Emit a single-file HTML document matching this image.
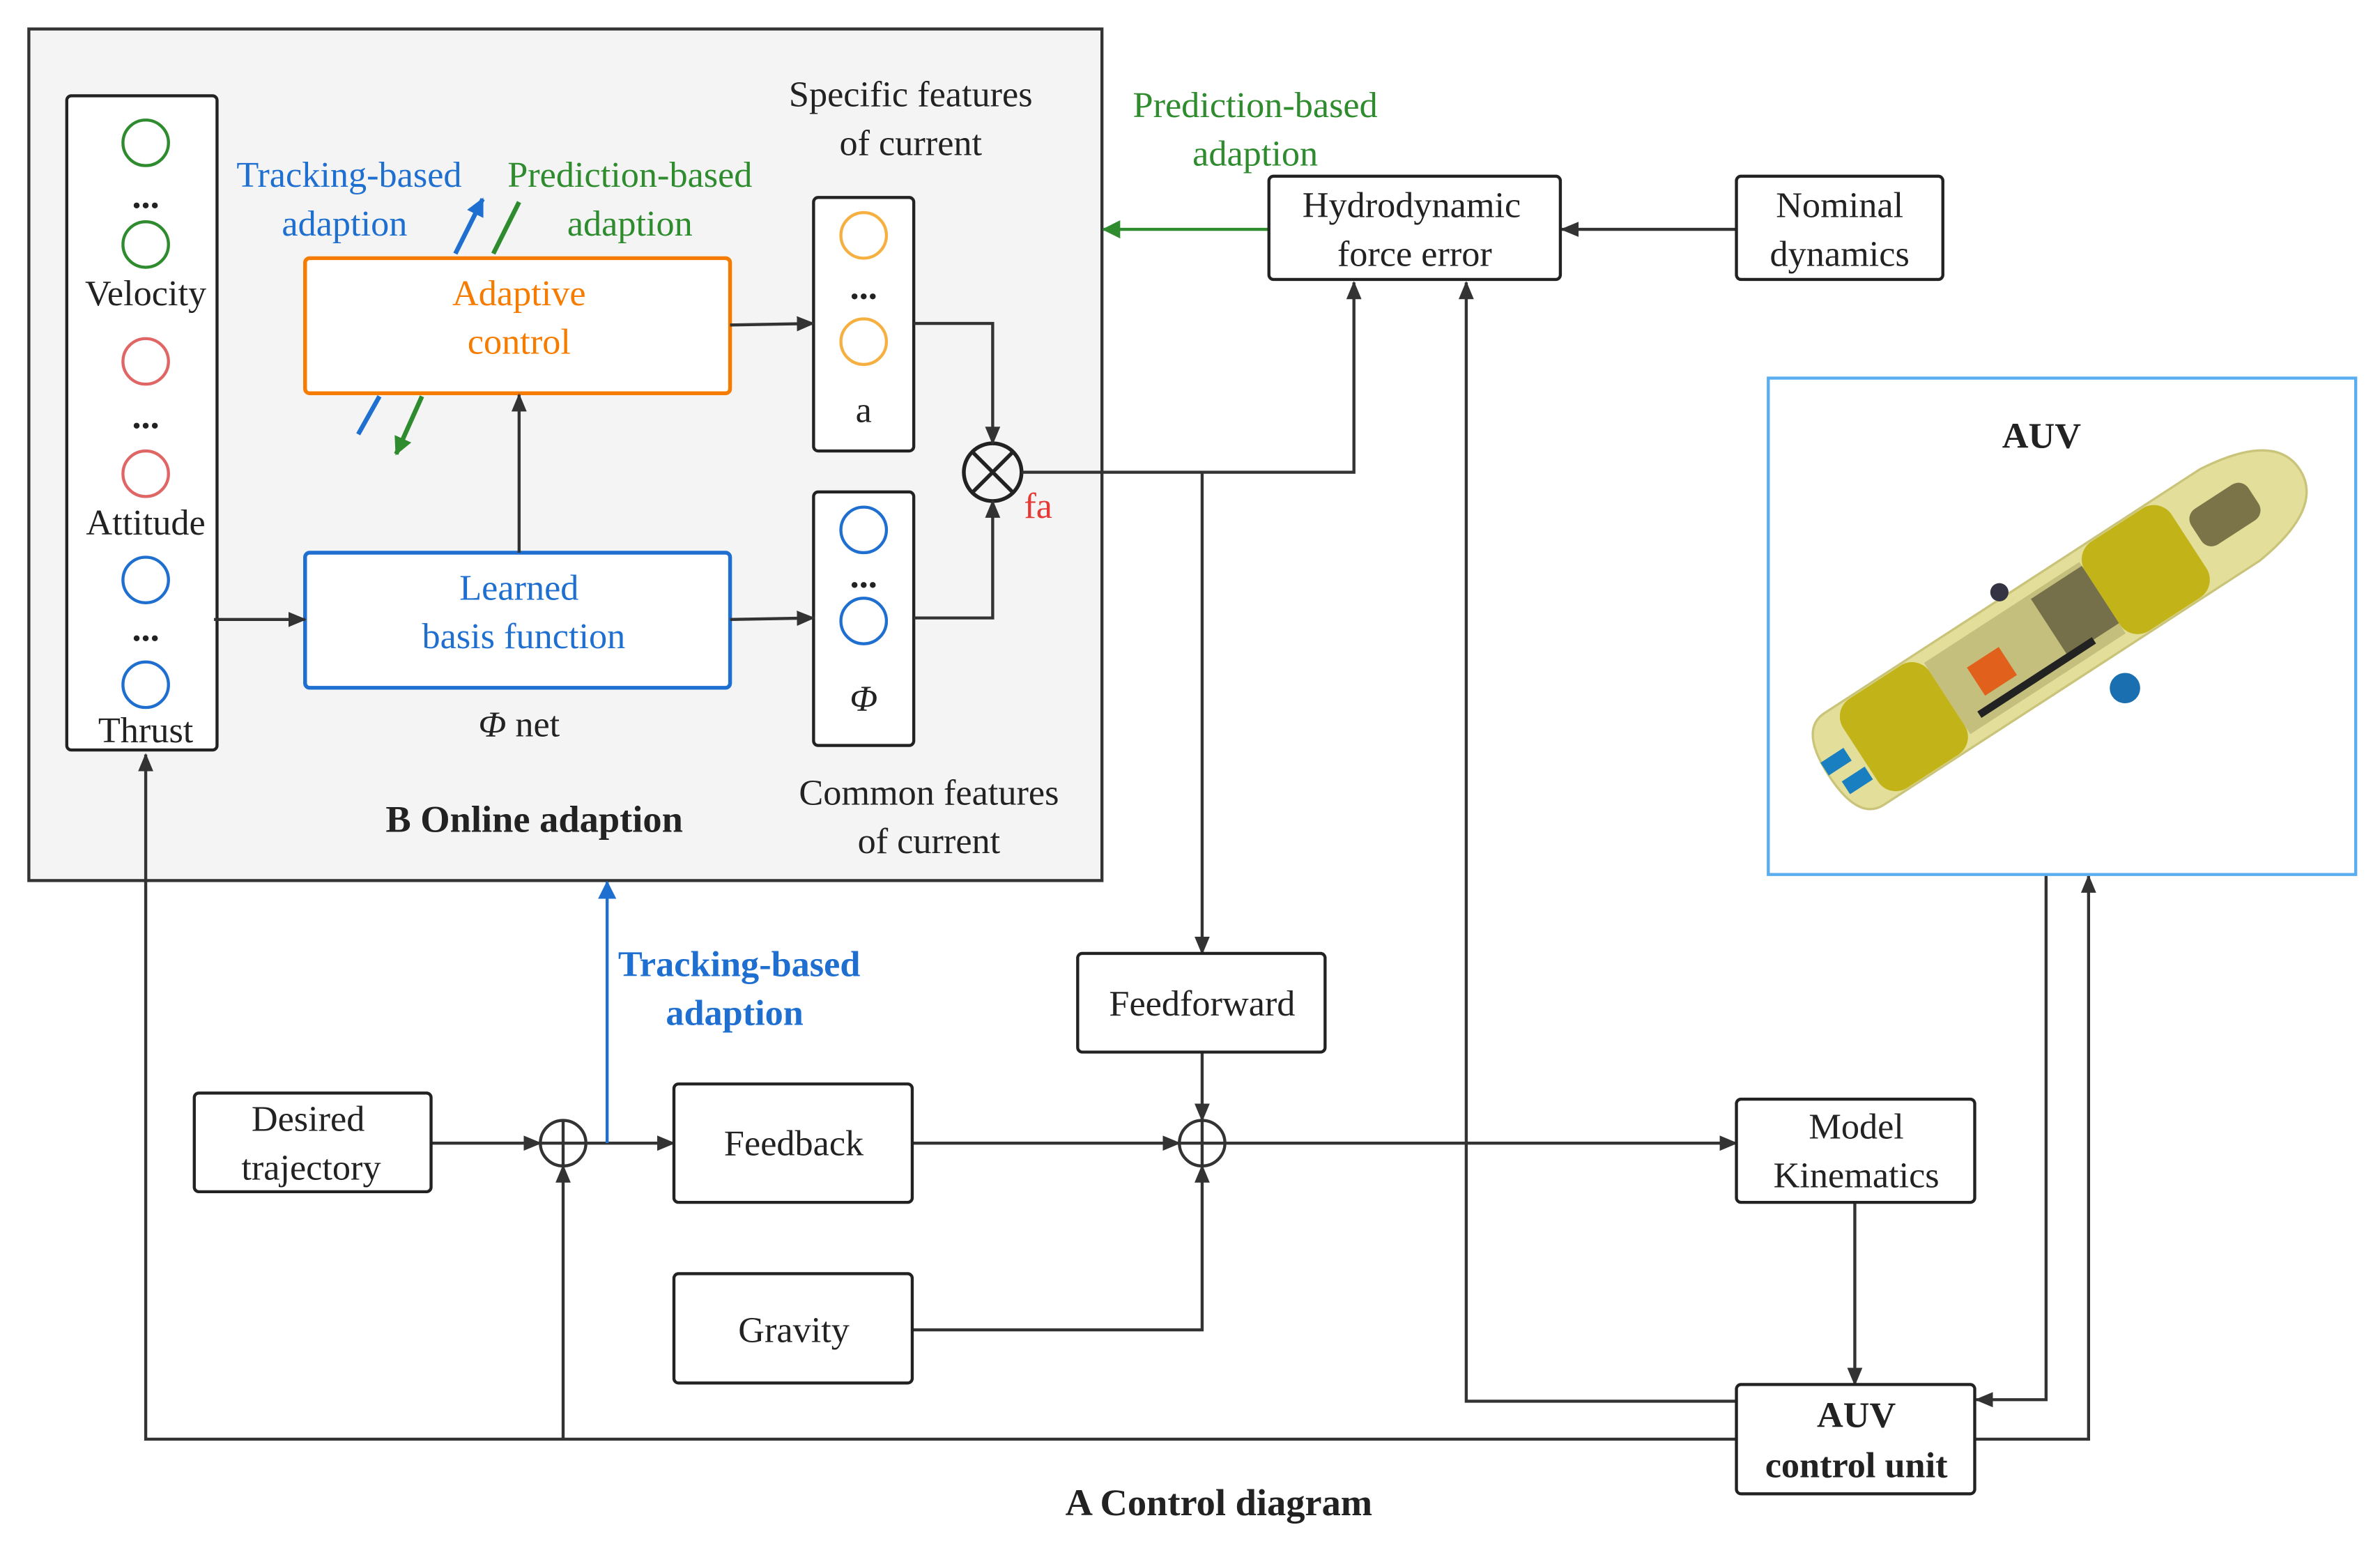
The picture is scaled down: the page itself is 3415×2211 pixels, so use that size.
<!DOCTYPE html>
<html><head><meta charset="utf-8"><style>
html,body{margin:0;padding:0;background:#fff;}
svg{display:block;font-family:"Liberation Serif","Times New Roman",serif;}
svg text{font-family:"Liberation Serif","Times New Roman",serif;font-size:24px;fill:#222;text-anchor:middle;}
.b{font-weight:bold;}
</style></head><body>
<svg width="3415" height="2211" viewBox="0 0 1568 1015" xmlns="http://www.w3.org/2000/svg" font-family="Liberation Serif, serif">
<defs>
<marker id="ak" markerWidth="12" markerHeight="12" refX="11" refY="6" orient="auto" markerUnits="userSpaceOnUse"><path d="M0,1 L12,6 L0,11 Z" fill="#333"/></marker>
<marker id="ab" markerWidth="12" markerHeight="12" refX="11" refY="6" orient="auto" markerUnits="userSpaceOnUse"><path d="M0,0 L12,6 L0,12 Z" fill="#1e6fd0"/></marker>
<marker id="ag" markerWidth="12" markerHeight="12" refX="11" refY="6" orient="auto" markerUnits="userSpaceOnUse"><path d="M0,0 L12,6 L0,12 Z" fill="#2e8b2e"/></marker>
</defs>
<rect x="19" y="19" width="707" height="561" fill="#f4f4f4" stroke="#333" stroke-width="2"/>
<g fill="none" stroke-width="2">
<rect x="44" y="63" width="99" height="431" rx="3" fill="#fff" stroke="#222"/>
<circle cx="96" cy="94" r="15" stroke="#2e8b2e"/><circle cx="96" cy="161" r="15" stroke="#2e8b2e"/>
<circle cx="96" cy="238" r="15" stroke="#e06666"/><circle cx="96" cy="312" r="15" stroke="#e06666"/>
<circle cx="96" cy="382" r="15" stroke="#1e6fd0"/><circle cx="96" cy="451" r="15" stroke="#1e6fd0"/>
<rect x="201" y="170" width="280" height="89" rx="3" fill="#fff" stroke="#f57c00" stroke-width="2.5"/>
<rect x="201" y="364" width="280" height="89" rx="3" fill="#fff" stroke="#1e6fd0" stroke-width="2.5"/>
<rect x="536" y="130" width="66" height="167" rx="3" fill="#fff" stroke="#222"/>
<circle cx="569" cy="155" r="15" stroke="#f5b041"/><circle cx="569" cy="225" r="15" stroke="#f5b041"/>
<rect x="536" y="324" width="66" height="167" rx="3" fill="#fff" stroke="#222"/>
<circle cx="569" cy="349" r="15" stroke="#1e6fd0"/><circle cx="569" cy="409" r="15" stroke="#1e6fd0"/>
<circle cx="654" cy="311" r="19" stroke="#222" stroke-width="2.5"/>
<path d="M641,298 L667,324 M667,298 L641,324" stroke="#222" stroke-width="2.5"/>
</g>
<text x="96" y="137" class="b">...</text><text x="96" y="282" class="b">...</text><text x="96" y="422" class="b">...</text>
<text x="96" y="201">Velocity</text><text x="96" y="352">Attitude</text><text x="96" y="489">Thrust</text>
<text x="342" y="201" style="fill:#f57c00">Adaptive</text><text x="342" y="233" style="fill:#f57c00">control</text>
<text x="342" y="395" style="fill:#1e6fd0">Learned</text><text x="345" y="427" style="fill:#1e6fd0">basis function</text>
<text x="342" y="485"><tspan font-style="italic">Φ</tspan> net</text>
<text x="569" y="197" class="b">...</text><text x="569" y="278">a</text>
<text x="569" y="387" class="b">...</text><text x="569" y="468" font-style="italic">Φ</text>
<text x="684" y="341" style="fill:#e53935">fa</text>
<text x="600" y="70">Specific features</text><text x="600" y="102">of current</text>
<text x="612" y="530">Common features</text><text x="612" y="562">of current</text>
<text x="352" y="548" class="b" style="font-size:25px">B Online adaption</text>
<text x="230" y="123" style="fill:#1e6fd0">Tracking-based</text><text x="227" y="155" style="fill:#1e6fd0">adaption</text>
<text x="415" y="123" style="fill:#2e8b2e">Prediction-based</text><text x="415" y="155" style="fill:#2e8b2e">adaption</text>
<g stroke-width="3" fill="none">
<line x1="300" y1="167" x2="318" y2="131" stroke="#1e6fd0" marker-end="url(#ab)"/>
<line x1="236" y1="286" x2="250" y2="261" stroke="#1e6fd0"/>
<line x1="325" y1="167" x2="342" y2="133" stroke="#2e8b2e"/>
<line x1="278" y1="261" x2="261" y2="299" stroke="#2e8b2e" marker-end="url(#ag)"/>
</g>
<g stroke="#333" stroke-width="2" fill="none">
<line x1="141" y1="408" x2="201" y2="408" marker-end="url(#ak)"/>
<line x1="342" y1="364" x2="342" y2="260" marker-end="url(#ak)"/>
<line x1="481" y1="214" x2="536" y2="213" marker-end="url(#ak)"/>
<line x1="481" y1="408" x2="536" y2="407" marker-end="url(#ak)"/>
<polyline points="602,213 654,213 654,292" marker-end="url(#ak)"/>
<polyline points="602,407 654,407 654,330" marker-end="url(#ak)"/>
<polyline points="673,311 892,311 892,186" marker-end="url(#ak)"/>
<line x1="792" y1="311" x2="792" y2="628" marker-end="url(#ak)"/>
<line x1="1144" y1="151" x2="1029" y2="151" marker-end="url(#ak)"/>
<line x1="792" y1="693" x2="792" y2="738" marker-end="url(#ak)"/>
<line x1="284" y1="753" x2="356" y2="753" marker-end="url(#ak)"/>
<line x1="386" y1="753" x2="444" y2="753" marker-end="url(#ak)"/>
<line x1="601" y1="753" x2="777" y2="753" marker-end="url(#ak)"/>
<polyline points="601,876 792,876 792,768" marker-end="url(#ak)"/>
<line x1="807" y1="753" x2="1144" y2="753" marker-end="url(#ak)"/>
<line x1="1222" y1="792" x2="1222" y2="912" marker-end="url(#ak)"/>
<polyline points="1144,923 966,923 966,186" marker-end="url(#ak)"/>
<polyline points="1144,948 96,948 96,497" marker-end="url(#ak)"/>
<line x1="371" y1="948" x2="371" y2="768" marker-end="url(#ak)"/>
<polyline points="1348,576 1348,922 1302,922" marker-end="url(#ak)"/>
<polyline points="1301,948 1376,948 1376,577" marker-end="url(#ak)"/>
<circle cx="371" cy="753" r="15"/><path d="M356,753 H386 M371,738 V768"/>
<circle cx="792" cy="753" r="15"/><path d="M777,753 H807 M792,738 V768"/>
</g>
<line x1="836" y1="151" x2="727" y2="151" stroke="#2e8b2e" stroke-width="2" marker-end="url(#ag)"/>
<line x1="400" y1="753" x2="400" y2="581" stroke="#1e6fd0" stroke-width="2" marker-end="url(#ab)"/>
<text x="827" y="77" style="fill:#2e8b2e">Prediction-based</text><text x="827" y="109" style="fill:#2e8b2e">adaption</text>
<text x="487" y="643" class="b" style="fill:#1e6fd0">Tracking-based</text><text x="484" y="675" class="b" style="fill:#1e6fd0">adaption</text>
<g fill="#fff" stroke="#222" stroke-width="2">
<rect x="836" y="116" width="192" height="68" rx="3"/>
<rect x="1144" y="116" width="136" height="68" rx="3"/>
<rect x="710" y="628" width="163" height="65" rx="3"/>
<rect x="128" y="720" width="156" height="65" rx="3"/>
<rect x="444" y="714" width="157" height="78" rx="3"/>
<rect x="444" y="839" width="157" height="72" rx="3"/>
<rect x="1144" y="724" width="157" height="68" rx="3"/>
<rect x="1144" y="912" width="157" height="72" rx="3"/>
</g>
<rect x="1165" y="249" width="387" height="327" fill="#fff" stroke="#5aaef0" stroke-width="2"/>
<text x="930" y="143">Hydrodynamic</text><text x="932" y="175">force error</text>
<text x="1212" y="143">Nominal</text><text x="1212" y="175">dynamics</text>
<text x="792" y="669">Feedforward</text>
<text x="203" y="745">Desired</text><text x="205" y="777">trajectory</text>
<text x="523" y="761">Feedback</text><text x="523" y="884">Gravity</text>
<text x="1223" y="750">Model</text><text x="1223" y="782">Kinematics</text>
<text x="1223" y="940" class="b">AUV</text><text x="1223" y="973" class="b">control unit</text>
<text x="803" y="998" class="b" style="font-size:25px">A Control diagram</text>
<text x="1345" y="295" class="b">AUV</text>
<g transform="translate(1360,410) rotate(-33)">
<path d="M-165,-36 L130,-36 Q185,-30 185,0 Q185,30 130,36 L-165,36 Q-185,36 -185,0 Q-185,-36 -165,-36 Z" fill="#e3df9a" stroke="#c9c47a" stroke-width="1.5"/>
<rect x="-160" y="-35" width="68" height="70" rx="14" fill="#c2b418"/>
<rect x="30" y="-35" width="68" height="70" rx="14" fill="#c2b418"/>
<rect x="-92" y="-28" width="122" height="56" fill="#b8b070" opacity="0.7"/>
<rect x="-10" y="-25" width="40" height="45" fill="#76704a"/>
<rect x="-70" y="-10" width="25" height="22" fill="#e0601c"/>
<rect x="105" y="-16" width="45" height="28" rx="8" fill="#7a7448"/>
<rect x="-80" y="18" width="90" height="5" fill="#222"/>
<circle cx="-25" cy="-40" r="6" fill="#334"/>
<circle cx="10" cy="58" r="10" fill="#1a6fb0"/>
<rect x="-185" y="-10" width="18" height="10" fill="#1a7fc0"/>
<rect x="-180" y="8" width="18" height="10" fill="#1a7fc0"/>
</g>
</svg>
</body></html>
